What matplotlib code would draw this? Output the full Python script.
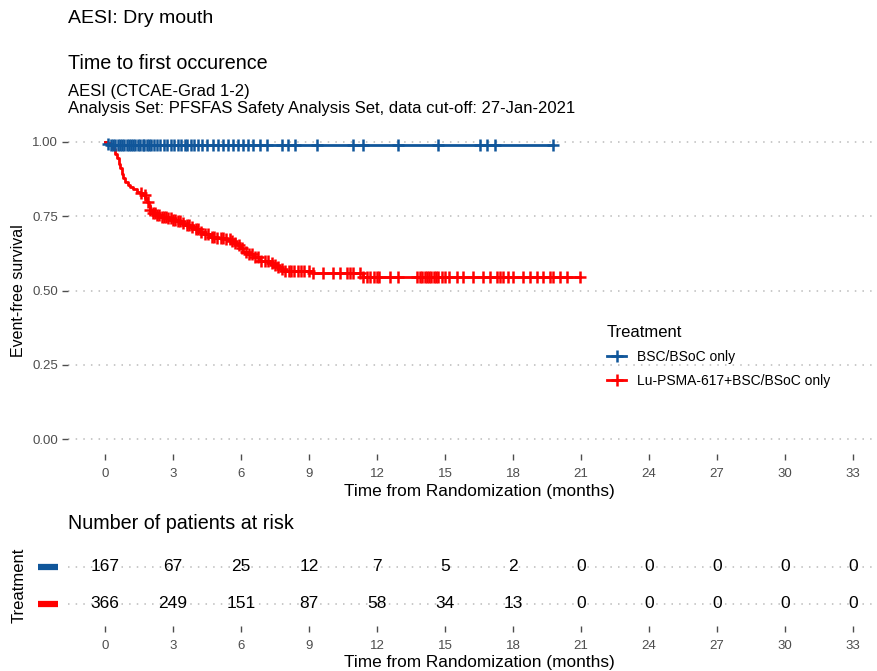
import numpy as np
import matplotlib
matplotlib.use("Agg")
import matplotlib.pyplot as plt
from matplotlib.lines import Line2D

plt.rcParams['font.family'] = ['Liberation Sans', 'DejaVu Sans']

# --- datos ---
grupos = ["BSC/BSoC only", "Lu-PSMA-617+BSC/BSoC only"]
colores = ["#10569A", "#FF0000"]

# BSC/BSoC only: escalones (tiempo, supervivencia)
t_bsc = [0.0, 0.10, 0.25, 19.78]
s_bsc = [1.0, 0.994, 0.988, 0.988]
cens_bsc = [0.15, 0.27, 0.36, 0.44, 0.57, 0.66, 0.74, 0.86, 0.95, 1.04, 1.16, 1.25,
            1.33, 1.46, 1.55, 1.67, 1.74, 1.86, 1.96, 2.04, 2.17, 2.31, 2.44, 2.62,
            2.73, 2.91, 3.03, 3.22, 3.34, 3.52, 3.63, 3.81, 3.94, 4.12, 4.29, 4.49,
            4.78, 5.0, 5.22, 5.44, 5.66, 5.88, 6.1, 6.32, 6.54, 6.84, 7.13, 7.79,
            8.09, 8.38, 9.34, 10.95, 11.4, 12.94, 14.7, 16.54, 16.84, 17.2, 19.78]

# Lu-PSMA-617+BSC/BSoC only
t_lu = [0.0, 0.10, 0.20, 0.30, 0.37, 0.45, 0.52, 0.60, 0.66, 0.74, 0.81, 0.90, 1.00,
        1.10, 1.25, 1.40, 1.55, 1.69, 1.78, 1.84, 1.92, 1.99, 2.10, 2.28, 2.50, 2.72,
        2.95, 3.16, 3.31, 3.50, 3.75, 3.95, 4.19, 4.40, 4.63, 4.85, 5.07, 5.30, 5.51,
        5.65, 5.81, 5.95, 6.10, 6.30, 6.54, 6.84, 7.28, 7.45, 7.57, 7.75, 7.87, 9.19,
        11.40, 20.95]
s_lu = [1.0, 0.995, 0.990, 0.982, 0.975, 0.960, 0.945, 0.927, 0.911, 0.893, 0.878,
        0.866, 0.856, 0.849, 0.840, 0.833, 0.827, 0.821, 0.810, 0.799, 0.785, 0.771,
        0.762, 0.754, 0.748, 0.743, 0.738, 0.733, 0.728, 0.721, 0.714, 0.706, 0.698,
        0.690, 0.681, 0.678, 0.675, 0.672, 0.668, 0.660, 0.652, 0.642, 0.631, 0.622,
        0.612, 0.600, 0.592, 0.585, 0.578, 0.572, 0.567, 0.558, 0.545, 0.545]
cens_lu = [1.6, 1.75, 1.9, 2.0, 2.1, 2.2, 2.3, 2.4, 2.5, 2.6, 2.7, 2.8, 2.9, 3.0, 3.1,
           3.2, 3.3, 3.45, 3.6, 3.7, 3.85, 4.0, 4.1, 4.25, 4.4, 4.55, 4.7, 4.8, 4.95,
           5.1, 5.2, 5.35, 5.5, 5.6, 5.75, 5.9, 6.05, 6.2, 6.35, 6.5, 6.6, 6.75, 6.9,
           7.05, 7.2, 7.35, 7.5, 7.65, 7.8, 7.95, 8.1, 8.2, 8.35, 8.5, 8.65, 8.8, 9.0,
           9.19, 9.63, 10.07, 10.37, 10.66, 10.81, 10.95, 11.25, 11.4, 11.55, 11.7,
           11.85, 12.0, 12.1, 12.57, 12.94, 13.75, 13.9, 14.0, 14.1, 14.2, 14.3, 14.4,
           14.5, 14.6, 14.7, 14.85, 15.0, 15.2, 15.51, 15.81, 16.25, 16.69, 16.98,
           17.28, 17.42, 17.57, 17.79, 18.01, 18.45, 18.75, 19.04, 19.34, 19.63,
           19.78, 20.07, 20.37, 20.95]

# pacientes en riesgo
tiempos_riesgo = [0, 3, 6, 9, 12, 15, 18, 21, 24, 27, 30, 33]
riesgo_bsc = [167, 67, 25, 12, 7, 5, 2, 0, 0, 0, 0, 0]
riesgo_lu = [366, 249, 151, 87, 58, 34, 13, 0, 0, 0, 0, 0]

xticks = list(range(0, 34, 3))
yticks = [0.0, 0.25, 0.5, 0.75, 1.0]

gris = "#4D4D4D"
fig = plt.figure(figsize=(8.78, 6.71), dpi=100)

# --- grafico principal ---
ax = fig.add_axes([0.077, 0.3234, 0.937, 0.4873])
curvas = [(t_bsc, s_bsc, cens_bsc), (t_lu, s_lu, cens_lu)]
for (t, s, c), col, nom in zip(curvas, colores, grupos):
    ax.step(t, s, where='post', color=col, lw=2.0, zorder=3)
    t_arr = np.array(t)
    s_arr = np.array(s)
    idx = np.searchsorted(t_arr, np.array(c), side='right') - 1
    ax.plot(c, s_arr[idx], ls='none', marker='+', ms=8, mew=1.8, color=col, zorder=4)

ax.set_xlim(-1.65, 34.65)
ax.set_ylim(-0.05, 1.05)
ax.set_xticks(xticks)
ax.set_yticks(yticks)
ax.set_yticklabels(["0.00", "0.25", "0.50", "0.75", "1.00"])
ax.tick_params(axis='both', colors=gris, labelsize=9.5, length=4, width=1)
ax.tick_params(axis='y', pad=3)
ax.tick_params(axis='x', pad=6)
for sp in ax.spines.values():
    sp.set_visible(False)
ax.grid(axis='y', linestyle=(0, (1, 4)), color='#BBBBBB', lw=1.1)
ax.set_xlabel("Time from Randomization (months)", fontsize=12.4, labelpad=3)
ax.set_ylabel("Event-free survival", fontsize=11.5, labelpad=4)

handles = [Line2D([], [], color=col, lw=2.0, marker='+', ms=8, mew=1.8) for col in colores]
leg = ax.legend(handles, grupos, title="Treatment", loc='upper left',
                bbox_to_anchor=(0.677, 0.535), bbox_transform=fig.transFigure,
                frameon=False, fontsize=10, title_fontsize=12, handlelength=1.4,
                alignment='left', labelspacing=0.75, handletextpad=0.8)

# --- titulos ---
fig.text(0.077, 0.973, "AESI: Dry mouth", fontsize=14, va='center')
fig.text(0.077, 0.905, "Time to first occurence", fontsize=14.2, va='center')
fig.text(0.077, 0.863, "AESI (CTCAE-Grad 1-2)", fontsize=12, va='center')
fig.text(0.077, 0.839, "Analysis Set: PFSFAS Safety Analysis Set, data cut-off: 27-Jan-2021",
         fontsize=12, va='center')

# --- tabla de riesgo ---
axr = fig.add_axes([0.077, 0.067, 0.937, 0.121])
filas = [(2, riesgo_bsc, colores[0]), (1, riesgo_lu, colores[1])]
for y, valores, col in filas:
    for x, v in zip(tiempos_riesgo, valores):
        axr.text(x, y, str(v), ha='center', va='center', fontsize=12.5)
    axr.plot([-0.036, -0.012], [y, y], color=col, lw=4.5, solid_capstyle='butt',
             transform=axr.get_yaxis_transform(), clip_on=False)
axr.set_xlim(-1.65, 34.65)
axr.set_ylim(0.4, 2.6)
axr.set_xticks(xticks)
axr.set_yticks([1, 2])
axr.set_yticklabels(["", ""])
axr.tick_params(axis='x', colors=gris, labelsize=9.5, length=4, width=1, pad=6)
axr.tick_params(axis='y', length=0)
for sp in axr.spines.values():
    sp.set_visible(False)
axr.grid(axis='y', linestyle=(0, (1, 4)), color='#BBBBBB', lw=1.1)
axr.set_xlabel("Time from Randomization (months)", fontsize=12.4, labelpad=2)
axr.set_ylabel("Treatment", fontsize=12, labelpad=26)
fig.text(0.077, 0.22, "Number of patients at risk", fontsize=14.2, va='center')

fig.savefig("out.png", dpi=100)
